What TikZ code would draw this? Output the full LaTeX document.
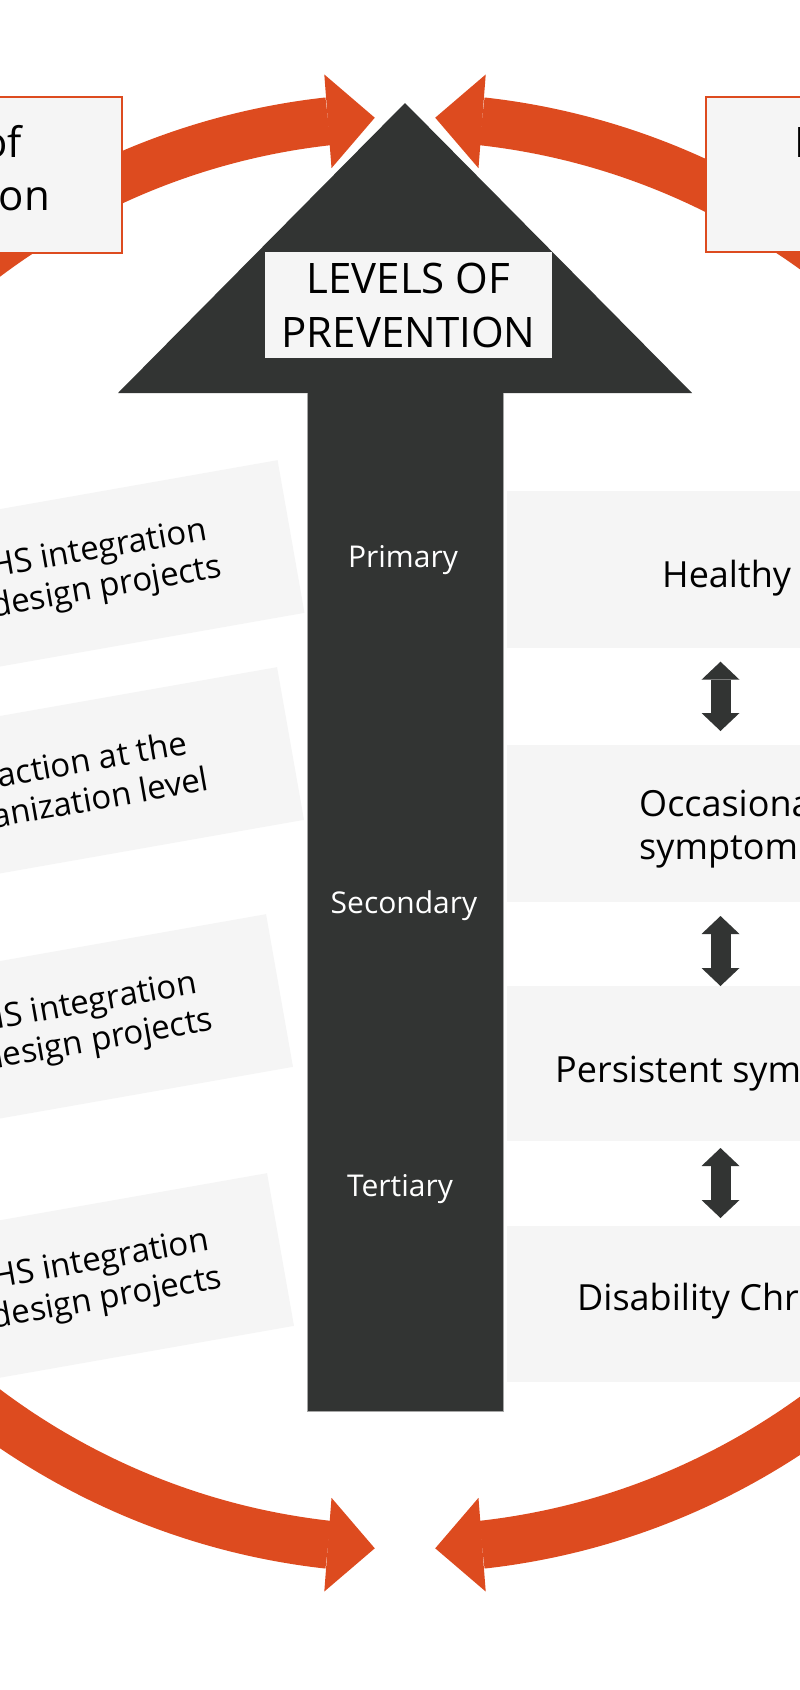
\documentclass[tikz,border=0pt]{standalone}
\usepackage{fontspec}
\setmainfont{Open Sans}
\usetikzlibrary{calc,arrows.meta,bending}
\definecolor{burnt}{RGB}{221,75,31}
\definecolor{slate}{RGB}{50,52,51}
\definecolor{paper}{RGB}{245,245,245}
\begin{document}
\begin{tikzpicture}[x=1pt,y=1pt,
  panel/.style={fill=paper, inner sep=0pt, outer sep=0pt},
  framed/.style={panel, draw=burnt, line width=2pt},
  cycle arrow/.style={draw=burnt, line width=48pt,
    -{Triangle[length=47pt,width=94pt,line width=0pt]}},
  updown/.style={draw=slate, line width=20pt,
    {Triangle[length=18pt,width=38pt,line width=0pt]}-{Triangle[length=18pt,width=38pt,line width=0pt]}},
  toptext/.style={inner sep=0pt, font=\fontsize{42}{53}\selectfont},
  leveltext/.style={inner sep=0pt, text=white, font=\fontsize{30}{36}\selectfont},
  lefttext/.style={inner sep=0pt, font=\fontsize{33}{39}\selectfont},
  righttext/.style={inner sep=0pt, font=\fontsize{36}{43}\selectfont}]

\fill[white] (0,0) rectangle (800,-1690);
\useasboundingbox (0,0) rectangle (800,-1690);

% centre of the circular flow
\coordinate (C) at (405,-833);

% four curved orange arrows
\coordinate (tlstart) at ($(C)+(165:705 and 716)$);
\coordinate (trstart) at ($(C)+(15:705 and 716)$);
\coordinate (blstart) at ($(C)+(195:705 and 716)$);
\coordinate (brstart) at ($(C)+(345:705 and 716)$);
\draw[cycle arrow] (tlstart) arc[start angle=165, end angle=92.46, x radius=705, y radius=716];
\draw[cycle arrow] (trstart) arc[start angle=15, end angle=87.54, x radius=705, y radius=716];
\draw[cycle arrow] (blstart) arc[start angle=195, end angle=267.54, x radius=705, y radius=716];
\draw[cycle arrow] (brstart) arc[start angle=345, end angle=272.46, x radius=705, y radius=716];

% framed boxes at the top corners
\node[framed, minimum width=320pt, minimum height=156pt, anchor=east] (tlbox) at (122,-175) {};
\node[toptext, anchor=east, align=right] (tltext) at (50,-168) {of\hspace*{28pt}\\on};
\node[framed, minimum width=320pt, minimum height=155pt, anchor=west] (trbox) at (706,-174.5) {};
\node[toptext, anchor=base west] (trtext) at (794,-157) {I};

% tilted boxes on the left
\node[panel, rotate=10, minimum width=520pt, minimum height=155pt, anchor=east] (l1) at (291,-536.5) {};
\node[panel, rotate=10, minimum width=520pt, minimum height=155pt, anchor=east] (l2) at (290.5,-743.5) {};
\node[panel, rotate=10, minimum width=520pt, minimum height=155pt, anchor=east] (l3) at (279.5,-990.5) {};
\node[panel, rotate=10, minimum width=520pt, minimum height=155pt, anchor=east] (l4) at (280.5,-1249.5) {};
\node[lefttext, rotate=10, anchor=east, align=right] (l1t) at ($(l1.east)!74pt!(l1.west)$) {HS integration\hspace*{8pt}\\design projects};
\node[lefttext, rotate=10, anchor=east, align=right] (l2t) at ($(l2.east)!87pt!(l2.west)$) {action at the\hspace*{15pt}\\anization level};
\node[lefttext, rotate=10, anchor=east, align=right] (l3t) at ($(l3.east)!71pt!(l3.west)$) {HS integration\hspace*{9pt}\\design projects};
\node[lefttext, rotate=10, anchor=east, align=right] (l4t) at ($(l4.east)!63pt!(l4.west)$) {HS integration\hspace*{6pt}\\design projects};

% stages on the right
\node[panel, minimum width=400pt, minimum height=156.7pt, anchor=north west] (hA) at (507,-491) {};
\node[panel, minimum width=400pt, minimum height=157pt, anchor=north west] (hB) at (507,-745) {};
\node[panel, minimum width=400pt, minimum height=155pt, anchor=north west] (hC) at (507,-986) {};
\node[panel, minimum width=400pt, minimum height=156pt, anchor=north west] (hD) at (507,-1226) {};
\node[righttext, anchor=base west] (hAt) at (662,-587) {Healthy};
\node[righttext, anchor=west, align=left] (hBt) at (639,-829.6) {Occasiona\\symptom};
\node[righttext, anchor=base west] (hCt) at (555,-1082) {Persistent sym};
\node[righttext, anchor=base west] (hDt) at (577,-1310) {Disability Chr};

% two-way arrows between the stages
\coordinate (ax) at (720.5,0);
\draw[updown, shorten <=14pt, shorten >=14pt] (hA.south -| ax) -- (hB.north -| ax);
\draw[updown, shorten <=14pt, shorten >=0pt] (hB.south -| ax) -- (hC.north -| ax);
\draw[updown, shorten <=7pt, shorten >=8pt] (hC.south -| ax) -- (hD.north -| ax);

% the large upward arrow
\coordinate (apex) at (405,-103);
\fill[slate] (apex) -- (692,-393) -- (503,-393) -- (503,-1411) -- (307,-1411) -- (307,-393) -- (118,-393) -- cycle;
\draw[gray!70, line width=1pt] (307,-393) -- (307,-1411) -- (503,-1411) -- (503,-393);

\node[panel, minimum width=287pt, minimum height=106pt, align=center,
  font=\fontsize{42}{54}\selectfont] (title) at (408.5,-305) {LEVELS OF\\PREVENTION};

\node[leveltext, anchor=base] (prim) at (403,-567) {Primary};
\node[leveltext, anchor=base] (sec) at (404,-913) {Secondary};
\node[leveltext, anchor=base] (ter) at (400,-1196) {Tertiary};
\end{tikzpicture}
\end{document}
